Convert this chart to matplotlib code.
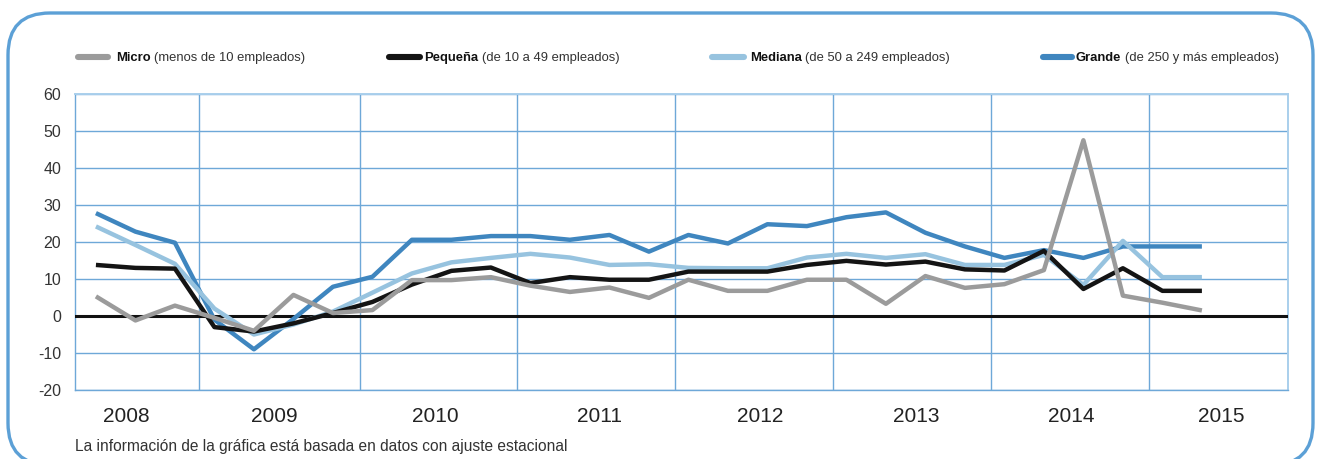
import matplotlib
matplotlib.use("Agg")
import matplotlib.pyplot as plt
import numpy as np
from matplotlib.patches import FancyBboxPatch
from matplotlib.lines import Line2D
from matplotlib.transforms import IdentityTransform

plt.rcParams['font.family'] = ['Liberation Sans', 'DejaVu Sans']

# ---- data (quarterly, 2008 T1 .. 2015 T1) ----
quarters = [f"{y}T{q}" for y in range(2008, 2016) for q in range(1, 5)][:29]
micro = [5.3, -1.2, 2.8, -0.5, -4.0, 5.7, 0.8, 1.6, 9.7, 9.7, 10.5, 8.2, 6.5, 7.7,
         4.9, 9.8, 6.8, 6.8, 9.8, 9.8, 3.3, 10.8, 7.6, 8.6, 12.4, 47.5, 5.5, 3.6, 1.5]
pequena = [13.8, 13.0, 12.8, -3.0, -4.2, -2.0, 0.8, 3.8, 8.5, 12.2, 13.1, 8.9, 10.5, 9.8,
           9.8, 12.0, 12.0, 12.0, 13.8, 14.9, 13.9, 14.7, 12.6, 12.3, 17.6, 7.3, 12.9, 6.8, 6.8]
mediana = [24.2, 19.2, 14.1, 2.0, -5.0, -2.3, 1.2, 6.3, 11.5, 14.5, 15.7, 16.8, 15.8, 13.8,
           14.0, 13.0, 12.9, 12.9, 15.8, 16.8, 15.7, 16.7, 13.8, 13.8, 16.5, 8.4, 20.3, 10.5, 10.5]
grande = [27.8, 22.8, 19.8, -1.0, -9.0, -0.8, 7.9, 10.6, 20.6, 20.6, 21.6, 21.6, 20.6, 21.9,
          17.4, 21.9, 19.6, 24.8, 24.3, 26.7, 28.0, 22.5, 18.8, 15.7, 17.8, 15.7, 18.8, 18.8, 18.8]

year_labels = ["2008", "2009", "2010", "2011", "2012", "2013", "2014", "2015"]
year_label_pos = [0.78, 4.51, 8.58, 12.76, 16.81, 20.76, 24.68, 28.48]
year_bounds = [2.61, 6.68, 10.66, 14.66, 18.66, 22.66, 26.66]
y_ticks = [-20, -10, 0, 10, 20, 30, 40, 50, 60]

series_names = ["Micro", "Pequeña", "Mediana", "Grande"]
series_notes = ["(menos de 10 empleados)", "(de 10 a 49 empleados)",
                "(de 50 a 249 empleados)", "(de 250 y más empleados)"]

C_MICRO = "#9b9b9b"
C_PEQ = "#141414"
C_MED = "#97c3df"
C_GRA = "#3f86bf"
GRID = "#6ea8d8"
LIGHT = "#a9cfec"
TXT = "#333333"

W, H = 1319, 459
fig = plt.figure(figsize=(W / 100, H / 100), dpi=100)
ax = fig.add_axes([75 / W, 69 / H, 1213 / W, 296 / H])

x = np.arange(len(quarters))
lw = 3.2
ax.plot(x, grande, color=C_GRA, lw=lw, solid_joinstyle='round', solid_capstyle='butt', zorder=4)
ax.plot(x, mediana, color=C_MED, lw=lw, solid_joinstyle='round', solid_capstyle='butt', zorder=5)
ax.plot(x, pequena, color=C_PEQ, lw=lw, solid_joinstyle='round', solid_capstyle='butt', zorder=6)
ax.plot(x, micro, color=C_MICRO, lw=lw, solid_joinstyle='round', solid_capstyle='butt', zorder=7)

ax.axhline(0, color="#111111", lw=2.2, zorder=3)

ax.set_xlim(-0.53, 30.18)
ax.set_ylim(-20, 60)
ax.set_yticks(y_ticks)
ax.set_yticklabels([str(v) for v in y_ticks])
ax.set_xticks(year_label_pos)
ax.set_xticklabels(year_labels)
ax.set_xticks(year_bounds, minor=True)
ax.tick_params(axis='y', length=0, pad=10, labelsize=11.5, labelcolor=TXT)
ax.tick_params(axis='x', which='major', length=0, pad=12, labelsize=15, labelcolor="#222222")
ax.tick_params(axis='x', which='minor', length=0)
ax.grid(axis='y', which='major', color=GRID, lw=1.0, zorder=1)
ax.grid(axis='x', which='minor', color=GRID, lw=1.0, zorder=1)
for s in ['left', 'bottom']:
    ax.spines[s].set_color(GRID)
    ax.spines[s].set_linewidth(1.0)
for s in ['top', 'right']:
    ax.spines[s].set_color(LIGHT)
    ax.spines[s].set_linewidth(1.4)

# rounded frame around the whole chart (pixel coordinates)
frame = FancyBboxPatch((8, -6), 1305, 6 + (H - 13), boxstyle="round,pad=0,rounding_size=42",
                       transform=IdentityTransform(), fill=False, edgecolor="#5ca0d6",
                       lw=2.4, zorder=10)
fig.patches.append(frame)

# legend
leg_y = (H - 58) / H
handles_px = [(78, 108), (389, 420), (712, 744), (1043, 1072)]
text_px = [116, 424, 750, 1076]
colors = [C_MICRO, C_PEQ, C_MED, C_GRA]
renderer = fig.canvas.get_renderer()
for (x0, x1), tx, c, nm, note in zip(handles_px, text_px, colors, series_names, series_notes):
    fig.lines.append(Line2D([x0 / W, x1 / W], [leg_y + 1 / H, leg_y + 1 / H], transform=fig.transFigure,
                            color=c, lw=4.4, solid_capstyle='round'))
    t = fig.text(tx / W, leg_y, nm, fontsize=9.4, fontweight='bold', color="#111111",
                 va='center', ha='left')
    wpx = t.get_window_extent(renderer).width
    fig.text((tx + wpx + 3.5) / W, leg_y, note, fontsize=9.4, color=TXT, va='center', ha='left')

fig.text(75 / W, (H - 446) / H, "La información de la gráfica está basada en datos con ajuste estacional",
         fontsize=11.2, color=TXT, va='center', ha='left')

fig.savefig("out.png", dpi=100)
